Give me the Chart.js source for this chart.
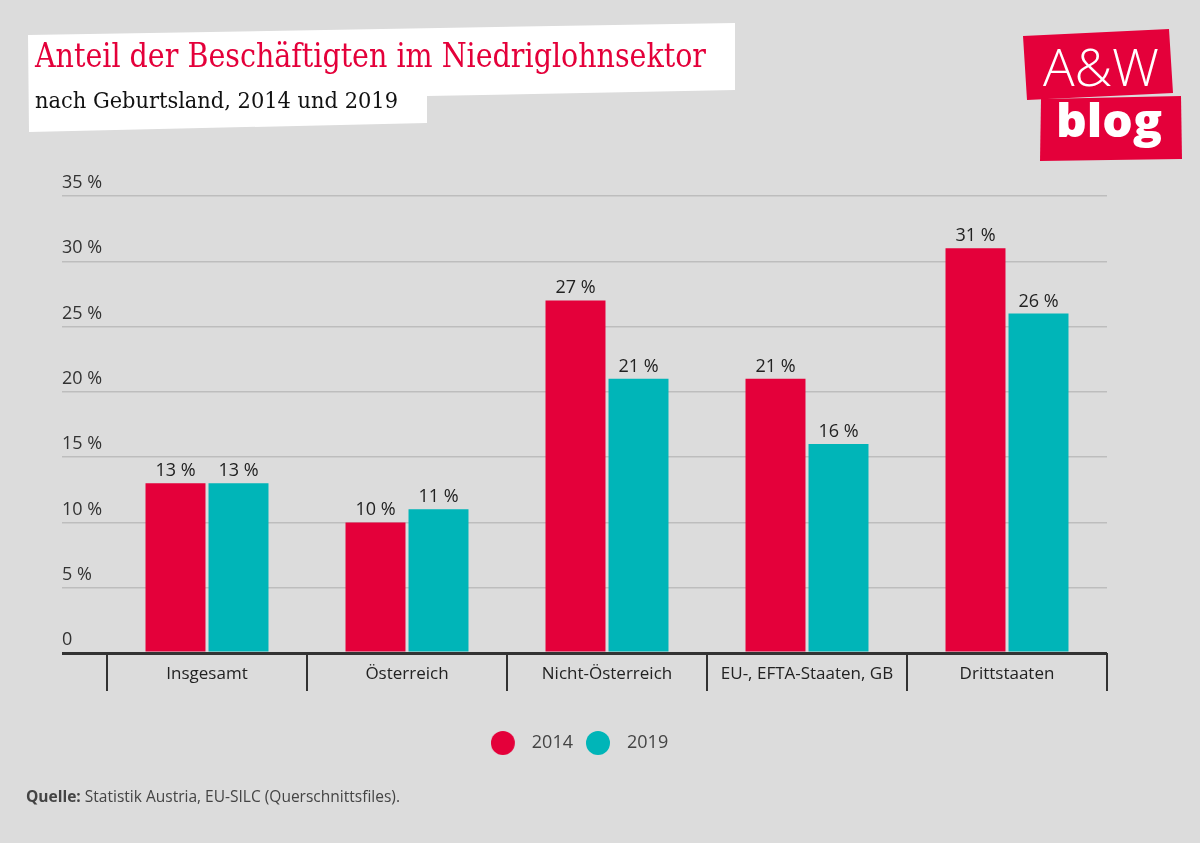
<!DOCTYPE html>
<html><head><meta charset="utf-8">
<script src="https://cdn.jsdelivr.net/npm/chart.js@4/dist/chart.umd.min.js"></script>
<style>
html,body{margin:0;padding:0;background:#dcdcdc;}
#wrap{position:relative;width:1200px;height:843px;overflow:hidden;background:#dcdcdc;}
#c{position:absolute;left:0;top:0;}
#ov{position:absolute;left:0;top:0;pointer-events:none;}
</style></head><body>
<div id="wrap">
<canvas id="c" width="1200" height="843"></canvas>
<svg id="ov" width="1200" height="843" xmlns="http://www.w3.org/2000/svg">
  <polygon points="28,35 735,23 735,90 427,96 427,123 29,132" fill="#ffffff"/>
  <text x="35" y="67" font-family="'DejaVu Serif Condensed','DejaVu Serif',serif" font-size="33" fill="#e4003a" textLength="671" lengthAdjust="spacingAndGlyphs">Anteil der Beschäftigten im Niedriglohnsektor</text>
  <text x="35" y="108" font-family="'DejaVu Serif Condensed','DejaVu Serif',serif" font-size="23" fill="#111111" textLength="363" lengthAdjust="spacingAndGlyphs">nach Geburtsland, 2014 und 2019</text>
  <polygon points="1023,36 1169,29 1173,93 1027,100" fill="#e4003a"/>
  <polygon points="1041,99 1181,96 1182,159 1040,161" fill="#e4003a"/>
  <text x="1043" y="86" font-family="'Open Sans',sans-serif" font-weight="300" font-size="51" fill="#ffffff" textLength="116" lengthAdjust="spacingAndGlyphs">A&amp;W</text>
  <text x="1056" y="137" font-family="'Open Sans',sans-serif" font-weight="800" font-size="46" fill="#ffffff" textLength="106" lengthAdjust="spacingAndGlyphs">blog</text>
  <text x="26" y="802" font-family="'Open Sans',sans-serif" font-size="16" fill="#444444" textLength="374" lengthAdjust="spacingAndGlyphs"><tspan font-weight="700">Quelle:</tspan> Statistik Austria, EU-SILC (Querschnittsfiles).</text>
</svg>
</div>
<script>
// ---- data ----
const categories = ['Insgesamt', 'Österreich', 'Nicht-Österreich', 'EU-, EFTA-Staaten, GB', 'Drittstaaten'];
const seriesNames = ['2014', '2019'];
const values2014 = [13, 10, 27, 21, 31];
const values2019 = [13, 11, 21, 16, 26];
const yTickValues = [0, 5, 10, 15, 20, 25, 30, 35];
const yTickLabels = ['0', '5 %', '10 %', '15 %', '20 %', '25 %', '30 %', '35 %'];
const valueSuffix = ' %';

// ---- styles ----
const RED = '#e4003a';
const TEAL = '#00b5b8';
const FONT = "'Open Sans', sans-serif";

function legendDot(color) {
  const cv = document.createElement('canvas');
  cv.width = 46; cv.height = 26;
  const g = cv.getContext('2d');
  g.fillStyle = color;
  g.beginPath(); g.arc(12, 13, 12, 0, Math.PI * 2); g.fill();
  return cv;
}

const valueLabels = {
  id: 'valueLabels',
  afterDatasetsDraw(chart) {
    const ctx = chart.ctx;
    ctx.save();
    ctx.font = "18px " + FONT;
    ctx.fillStyle = '#222222';
    ctx.textAlign = 'center';
    ctx.textBaseline = 'alphabetic';
    chart.data.datasets.forEach((ds, i) => {
      const meta = chart.getDatasetMeta(i);
      meta.data.forEach((bar, j) => {
        ctx.fillText(ds.data[j] + valueSuffix, bar.x, bar.y - 7);
      });
    });
    ctx.restore();
  }
};

new Chart(document.getElementById('c'), {
  type: 'bar',
  data: {
    labels: categories,
    datasets: [
      { label: seriesNames[0], data: values2014, backgroundColor: RED, pointStyle: legendDot(RED),
        categoryPercentage: 0.63, barPercentage: 0.952 },
      { label: seriesNames[1], data: values2019, backgroundColor: TEAL, pointStyle: legendDot(TEAL),
        categoryPercentage: 0.63, barPercentage: 0.952 }
    ]
  },
  options: {
    responsive: false,
    animation: false,
    devicePixelRatio: 1,
    layout: { padding: { left: 62, right: 89, top: 196, bottom: 81 } },
    plugins: {
      legend: {
        position: 'bottom',
        labels: {
          usePointStyle: true,
          font: { family: FONT, size: 18 },
          color: '#444444',
          padding: 27
        }
      },
      tooltip: { enabled: false }
    },
    scales: {
      x: {
        offset: true,
        border: { display: false },
        grid: { display: true, offset: true, drawOnChartArea: false, drawTicks: true,
                tickLength: 38, color: '#333333', lineWidth: 2 },
        ticks: { font: { family: FONT, size: 17 }, color: '#222222', padding: -27,
                 maxRotation: 0, autoSkip: false },
        afterFit(s) { s.height = 54; }
      },
      y: {
        min: 0, max: 35,
        border: { display: false },
        afterBuildTicks(s) { s.ticks = yTickValues.map(v => ({ value: v })); },
        grid: {
          drawTicks: true, tickLength: 45,
          color: c => (c.tick && c.tick.value === 0) ? '#333333' : '#bdbdbd',
          lineWidth: c => (c.tick && c.tick.value === 0) ? 3 : 1.5
        },
        ticks: {
          crossAlign: 'far', padding: 0, labelOffset: -13,
          font: { family: FONT, size: 18 }, color: '#333333',
          callback: (v, i) => yTickLabels[i]
        },
        afterFit(s) { s.width = 45; }
      },
      y2: {
        position: 'right', display: true,
        border: { display: false },
        grid: { drawOnChartArea: false, drawTicks: false },
        ticks: { display: false },
        afterFit(s) { s.width = 4; }
      }
    }
  },
  plugins: [valueLabels]
});
</script>
</body></html>
